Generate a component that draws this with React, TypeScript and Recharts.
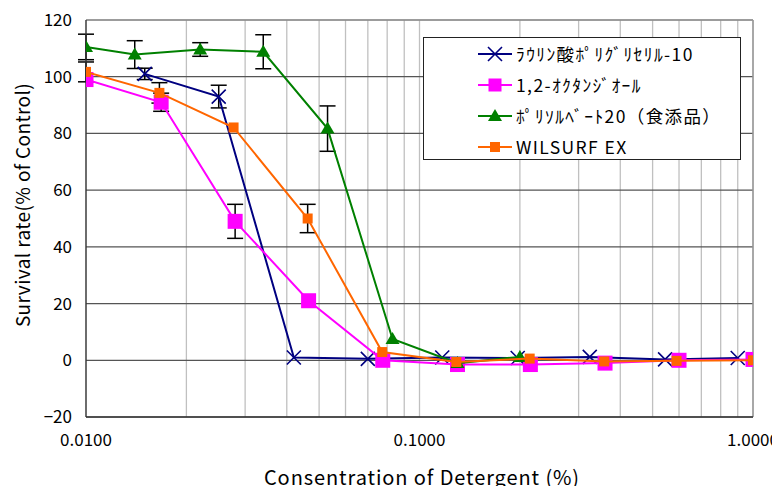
import React from "react";
import {
  ScatterChart,
  Scatter,
  XAxis,
  YAxis,
  CartesianGrid,
  ErrorBar,
  Legend,
  ReferenceLine
} from "recharts";

// series values
const blueX = [0.015, 0.025, 0.042, 0.07, 0.117, 0.197, 0.324, 0.545, 0.9];
const blueY = [101, 93, 1, 0.5, 1, 0.8, 1.2, 0.3, 0.8];
const blueErr = [2, 4, null, null, null, null, null, null, null];

const pinkX = [0.01, 0.0168, 0.028, 0.0465, 0.0776, 0.13, 0.215, 0.36, 0.6, 1.0];
const pinkY = [99, 91, 49, 21, 0, -1.5, -1.5, -1, 0, 0.3];
const pinkErr = [null, 3.2, 6, null, null, null, null, null, null, null];

const greenX = [0.01, 0.014, 0.022, 0.034, 0.053, 0.083, 0.13, 0.2];
const greenY = [110.5, 107.8, 109.6, 108.8, 81.7, 7.5, -1, 1.2];
const greenErr = [4.5, 4.9, 2.4, 6, 8, null, null, null];

const orangeX = [0.01, 0.0166, 0.0277, 0.0462, 0.0773, 0.129, 0.214, 0.358, 0.59, 1.0];
const orangeY = [101.7, 94.3, 82.1, 50, 2.9, -0.6, 0.6, -0.4, -0.2, 0];
const orangeErr = [3.5, 3.6, null, 5, null, null, null, null, null, null];

const seriesNames = [
  "ﾗｳﾘﾝ酸ﾎﾟﾘｸﾞﾘｾﾘﾙ-10",
  "1,2-ｵｸﾀﾝｼﾞｵｰﾙ",
  "ﾎﾟﾘｿﾙﾍﾞｰﾄ20（食添品）",
  "WILSURF EX"
];

const xTicks = [
  0.01, 0.02, 0.03, 0.04, 0.05, 0.06, 0.07, 0.08, 0.09,
  0.1, 0.2, 0.3, 0.4, 0.5, 0.6, 0.7, 0.8, 0.9, 1
];
const xLabels = [0.01, 0.1, 1];
const yTicks = [-20, 0, 20, 40, 60, 80, 100, 120];

const toPoints = (xs: number[], ys: number[], errs: (number | null)[]) =>
  xs.map((x, i) => ({ x, y: ys[i], err: errs[i] ?? undefined }));

const blueData = toPoints(blueX, blueY, blueErr);
const pinkData = toPoints(pinkX, pinkY, pinkErr);
const greenData = toPoints(greenX, greenY, greenErr);
const orangeData = toPoints(orangeX, orangeY, orangeErr);

const NAVY = "#000080";
const PINK = "#FF00FF";
const GREEN = "#008000";
const ORANGE = "#FF6600";
const FONT = "'Noto Sans CJK JP', 'Noto Sans', sans-serif";

const xMark = (cx: number, cy: number) => (
  <path
    d={`M${cx - 7},${cy - 7}L${cx + 7},${cy + 7}M${cx - 7},${cy + 7}L${cx + 7},${cy - 7}`}
    stroke={NAVY}
    strokeWidth={1.6}
    fill="none"
  />
);
const square = (cx: number, cy: number, s: number, color: string) => (
  <rect x={cx - s / 2} y={cy - s / 2} width={s} height={s} fill={color} />
);
const triangle = (cx: number, cy: number) => (
  <path d={`M${cx},${cy - 7}L${cx + 7},${cy + 5}L${cx - 7},${cy + 5}Z`} fill={GREEN} />
);

const BlueShape = (p: any) => xMark(p.cx, p.cy);
const PinkShape = (p: any) => square(p.cx, p.cy, 15, PINK);
const GreenShape = (p: any) => triangle(p.cx, p.cy);
const OrangeShape = (p: any) => square(p.cx, p.cy, 10, ORANGE);

const legendMarks = [
  { color: NAVY, mark: (cx: number, cy: number) => xMark(cx, cy) },
  { color: PINK, mark: (cx: number, cy: number) => square(cx, cy, 13, PINK) },
  { color: GREEN, mark: (cx: number, cy: number) => triangle(cx, cy) },
  { color: ORANGE, mark: (cx: number, cy: number) => square(cx, cy, 10, ORANGE) }
];

const LegendBox = () => (
  <div
    style={{
      border: "1px solid #222",
      background: "#fff",
      width: 318,
      height: 123,
      boxSizing: "border-box",
      paddingTop: 0,
      fontFamily: FONT
    }}
  >
    {seriesNames.map((name, i) => (
      <div key={name} style={{ display: "flex", alignItems: "center", height: 31, paddingLeft: 54 }}>
        <svg width={34} height={20}>
          <line x1={0} y1={10} x2={34} y2={10} stroke={legendMarks[i].color} strokeWidth={2} />
          {legendMarks[i].mark(17, 10)}
        </svg>
        <span
          style={{ marginLeft: 4, fontSize: 17.5, letterSpacing: 1.4, color: "#000", whiteSpace: "nowrap" }}
        >
          {name}
        </span>
      </div>
    ))}
  </div>
);

const YTitle = () => (
  <text
    x={13}
    y={197}
    transform="rotate(-90 13 197)"
    textAnchor="middle"
    dominantBaseline="central"
    fontSize={19}
    letterSpacing={0.4}
    fill="#000"
  >
    Survival rate(% of Control)
  </text>
);

const XTitle = () => (
  <text x={414} y={477} textAnchor="middle" fontSize={20} letterSpacing={0.9} fill="#000">
    Consentration of Detergent (%)
  </text>
);

const fmtX = (v: number) => (xLabels.some((d) => Math.abs(d - v) < 1e-9) ? v.toFixed(4) : "");
const fmtY = (v: number) => (v < 0 ? "\u2212" + Math.abs(v) : String(v));

export default function App() {
  return (
    <div style={{ width: 764, height: 478, fontFamily: FONT, position: "relative" }}>
      <ScatterChart width={764} height={478} margin={{ top: 12, right: 19, left: 0, bottom: 0 }}>
        <CartesianGrid horizontal={false} stroke="#c0c0c0" strokeWidth={1.3} />
        <CartesianGrid vertical={false} stroke="#555" strokeWidth={1.2} />
        <XAxis
          dataKey="x"
          type="number"
          scale="log"
          domain={[0.01, 1]}
          allowDataOverflow
          ticks={xTicks}
          interval={0}
          tickFormatter={fmtX}
          height={69}
          tickLine={false}
          tickSize={0}
          tickMargin={17}
          axisLine={{ stroke: "#333", strokeWidth: 1.3 }}
          tick={{ fontSize: 17, fill: "#000" }}
          label={<XTitle />}
        />
        <YAxis
          dataKey="y"
          type="number"
          domain={[-20, 120]}
          ticks={yTicks}
          interval={0}
          tickFormatter={fmtY}
          width={78}
          tickLine={false}
          tickSize={0}
          tickMargin={14}
          axisLine={{ stroke: "#333", strokeWidth: 1.3 }}
          tick={{ fontSize: 17, fill: "#000" }}
          label={<YTitle />}
        />
        <ReferenceLine x={1} stroke="#999" strokeWidth={1.5} />
        <ReferenceLine y={120} stroke="#999" strokeWidth={1.5} />
        <Legend
          layout="horizontal"
          verticalAlign="middle"
          align="center"
          wrapperStyle={{ left: 415, top: 29, width: 318 }}
          content={<LegendBox />}
        />
        <Scatter
          name={seriesNames[0]}
          data={blueData}
          line={{ stroke: NAVY, strokeWidth: 2 }}
          lineType="joint"
          shape={BlueShape}
          isAnimationActive={false}
        >
          <ErrorBar dataKey="err" direction="y" width={8} stroke="#000" strokeWidth={1.5} />
        </Scatter>
        <Scatter
          name={seriesNames[1]}
          data={pinkData}
          line={{ stroke: PINK, strokeWidth: 2 }}
          lineType="joint"
          shape={PinkShape}
          isAnimationActive={false}
        >
          <ErrorBar dataKey="err" direction="y" width={8} stroke="#000" strokeWidth={1.5} />
        </Scatter>
        <Scatter
          name={seriesNames[2]}
          data={greenData}
          line={{ stroke: GREEN, strokeWidth: 2 }}
          lineType="joint"
          shape={GreenShape}
          isAnimationActive={false}
        >
          <ErrorBar dataKey="err" direction="y" width={8} stroke="#000" strokeWidth={1.5} />
        </Scatter>
        <Scatter
          name={seriesNames[3]}
          data={orangeData}
          line={{ stroke: ORANGE, strokeWidth: 2 }}
          lineType="joint"
          shape={OrangeShape}
          isAnimationActive={false}
        >
          <ErrorBar dataKey="err" direction="y" width={8} stroke="#000" strokeWidth={1.5} />
        </Scatter>
      </ScatterChart>
    </div>
  );
}
